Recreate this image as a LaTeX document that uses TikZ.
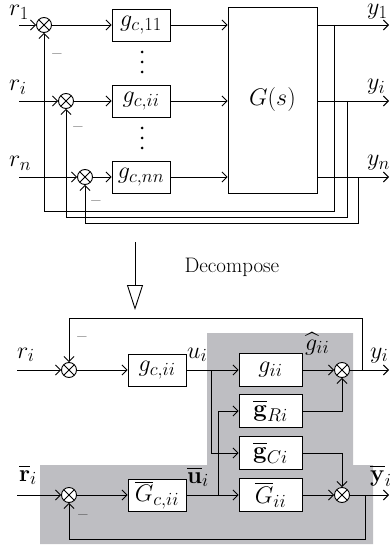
\documentclass[tikz,border=0pt]{standalone}
\usepackage{fix-cm}
\usepackage{amsmath}
\usetikzlibrary{arrows.meta}
\DeclareMathSizes{24}{24}{18.5}{14}
\DeclareMathSizes{20}{20}{15.5}{12}
\definecolor{shadegray}{RGB}{190,190,194}
\tikzset{
  sig/.style={line width=0.9pt,-{Straight Barb[length=5pt,width=10pt]}},
  blk/.style={draw,line width=0.9pt,fill=white,minimum width=58pt,minimum height=32pt,inner sep=0pt},
  blkw/.style={blk,minimum width=63pt,minimum height=33pt},
  sumnode/.style={draw,circle,line width=0.9pt,fill=white,minimum size=15pt,inner sep=0pt,
    path picture={\draw[line width=0.9pt] (path picture bounding box.north west) -- (path picture bounding box.south east)
      (path picture bounding box.north east) -- (path picture bounding box.south west);}},
  lbl/.style={inner sep=0pt,anchor=base west},
  minus/.style={inner sep=0pt,font=\fontsize{20}{24}\selectfont},
}
\begin{document}
\begin{tikzpicture}[x=1pt,y=-1pt,font=\fontsize{24}{28}\selectfont]
\useasboundingbox (0,0) rectangle (390,548);
% shaded region
\fill[shadegray] (207,333) -- (353,333) -- (353,465) -- (373,465) -- (373,544) -- (40,544) -- (40,465) -- (207,465) -- cycle;

% ---------- top part ----------
\node[sumnode] (S1) at (44,25) {};
\node[sumnode] (S2) at (66,101) {};
\node[sumnode] (S3) at (85,177) {};
\node[blk] (B1) at (141,25) {$g_{c,11}$};
\node[blk] (B2) at (141,101) {$g_{c,ii}$};
\node[blk] (B3) at (141,177) {$g_{c,nn}$};
\node[draw,line width=0.9pt,minimum width=89pt,minimum height=186pt,inner sep=0pt] (G) at (272.5,100) {$G(s)$};

\coordinate (i1) at (19,25);
\coordinate (i2) at (19,101);
\coordinate (i3) at (19,177);
\node[lbl] (lr1) at (9,16) {$r_1$};
\node[lbl] (lr2) at (9,91) {$r_i$};
\node[lbl] (lr3) at (9,167) {$r_n$};

\draw[sig] (i1) -- (S1.west);
\draw[sig] (i2) -- (S2.west);
\draw[sig] (i3) -- (S3.west);
\draw[sig] (S1.east) -- (B1.west);
\draw[sig] (S2.east) -- (B2.west);
\draw[sig] (S3.east) -- (B3.west);
\draw[sig] (B1.east) -- (B1.east -| G.west);
\draw[sig] (B2.east) -- (B2.east -| G.west);
\draw[sig] (B3.east) -- (B3.east -| G.west);

\coordinate (o1) at (389,25);
\coordinate (o2) at (389,101);
\coordinate (o3) at (389,177);
\draw[sig] (B1.east -| G.east) -- (o1);
\draw[sig] (B2.east -| G.east) -- (o2);
\draw[sig] (B3.east -| G.east) -- (o3);
\node[lbl] (ly1) at (367,15) {$y_1$};
\node[lbl] (ly2) at (367,90) {$y_i$};
\node[lbl] (ly3) at (367,166) {$y_n$};

\coordinate (t1) at (334,25);
\coordinate (t2) at (347,101);
\coordinate (t3) at (358,177);
\coordinate (c1) at (334,211);
\coordinate (c2) at (347,217);
\coordinate (c3) at (358,223);
\draw[sig] (t1) -- (c1) -| (S1.south);
\draw[sig] (t2) -- (c2) -| (S2.south);
\draw[sig] (t3) -- (c3) -| (S3.south);
\node[minus] (m1) at (57,57) {\textendash};
\node[minus] (m2) at (78,130) {\textendash};
\node[minus] (m3) at (96,204) {\textendash};

\foreach \yy in {52,62,72,128,138,148} \fill (142,\yy) circle (1.5pt);

% ---------- decompose arrow ----------
\coordinate (dA) at (135,242);
\coordinate (dB) at (135,310);
\draw[line width=0.9pt,-{Triangle[open,length=25pt,width=16pt,line width=0.9pt]}] (dA) -- (dB);
\node[anchor=west,font=\fontsize{21}{25}\selectfont] (dec) at (181,267) {Decompose};

% ---------- bottom part ----------
\node[sumnode] (Sa) at (69,370) {};
\node[blk] (Ba) at (157,370) {$g_{c,ii}$};
\coordinate (J1) at (211,370);
\node[blkw] (Bg) at (270.5,370) {$g_{ii}$};
\node[sumnode] (Sb) at (342,370) {};
\node[blkw] (BR) at (270.5,411) {$\overline{\mathbf{g}}_{Ri}$};
\node[blkw] (BC) at (270.5,453) {$\overline{\mathbf{g}}_{Ci}$};
\node[blkw] (BG) at (270.5,495) {$\overline{G}_{ii}$};
\node[sumnode] (Sc) at (342,495) {};
\node[sumnode] (Sd) at (69,495) {};
\node[blk] (Bd) at (157,495) {$\overline{G}_{c,ii}$};
\coordinate (J2) at (218,495);

\coordinate (ia) at (17,370);
\coordinate (id) at (17,495);
\coordinate (ob) at (389,370);
\coordinate (oc) at (389,495);
\coordinate (tb) at (362,370);
\coordinate (cb) at (362,318);
\coordinate (tc) at (365,495);
\coordinate (cc) at (365,539);

\draw[sig] (ia) -- (Sa.west);
\draw[sig] (Sa.east) -- (Ba.west);
\draw[sig] (Ba.east) -- (Bg.west);
\draw[sig] (J1) |- (BC.west);
\draw[sig] (Bg.east) -- (Sb.west);
\draw[sig] (BR.east) -| (Sb.south);
\draw[sig] (BC.east) -| (Sc.north);
\draw[sig] (BG.east) -- (Sc.west);
\draw[sig] (id) -- (Sd.west);
\draw[sig] (Sd.east) -- (Bd.west);
\draw[sig] (Bd.east) -- (BG.west);
\draw[sig] (J2) |- (BR.west);
\draw[sig] (Sb.east) -- (ob);
\draw[sig] (Sc.east) -- (oc);
\draw[sig] (tb) -- (cb) -| (Sa.north);
\draw[sig] (tc) -- (cc) -| (Sd.south);

\node[lbl] (lra) at (17,358) {$r_i$};
\node[lbl] (lua) at (187,358) {$u_i$};
\node[lbl] (lgh) at (305,350) {$\widehat{g}_{ii}$};
\node[lbl] (lyb) at (370,358) {$y_i$};
\node[lbl] (lrd) at (19,481) {$\overline{\mathbf{r}}_i$};
\node[lbl] (lud) at (187,483) {$\overline{\mathbf{u}}_i$};
\node[lbl] (lyc) at (370,481) {$\overline{\mathbf{y}}_i$};
\node[minus] (m4) at (82,340) {\textendash};
\node[minus] (m5) at (83,518) {\textendash};
\end{tikzpicture}
\end{document}
